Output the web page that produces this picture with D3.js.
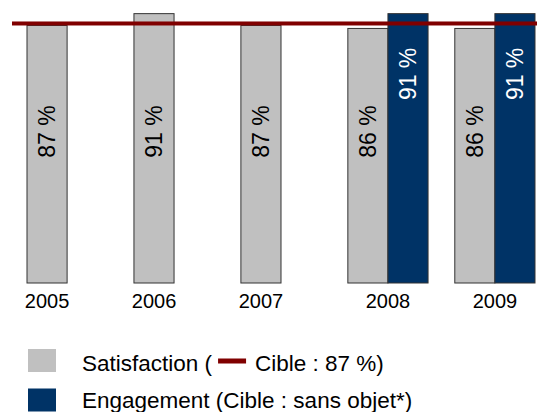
<!DOCTYPE html>
<html>
<head>
<meta charset="utf-8">
<script src="https://cdn.jsdelivr.net/npm/d3@7"></script>
<style>
  body { margin: 0; background: #fff; }
  svg { display: block; font-family: "Liberation Sans", Arial, sans-serif; }
</style>
</head>
<body>
<svg id="chart" width="537" height="412"></svg>
<script>
"use strict";

var years = ["2005", "2006", "2007", "2008", "2009"];
var satisfaction = [87, 91, 87, 86, 86];
var engagement = [null, null, null, 91, 91];
var target = 87;
var seriesNames = ["Satisfaction", "Engagement"];
var legendLabels = ["Satisfaction (", "Engagement (Cible : sans objet*)"];
var targetLabel = "Cible : 87 %";

var colors = { Satisfaction: "#c0c0c0", Engagement: "#003366" };
var labelColors = { Satisfaction: "#000", Engagement: "#fff" };
var targetColor = "#800000";

var svg = d3.select("#chart");

var x = d3.scaleBand()
    .domain(years)
    .range([27, 535])
    .paddingInner(0.25)
    .paddingOuter(0);

var xSub = d3.scaleBand()
    .domain(seriesNames)
    .range([0, x.bandwidth()]);

var y = d3.scaleLinear()
    .domain([0, 100])
    .range([283, -13]);

var rows = years.map(function(year, i) {
    var bars = [{ key: "Satisfaction", value: satisfaction[i] }];
    if (engagement[i] != null) {
        bars.push({ key: "Engagement", value: engagement[i] });
    }
    return { year: year, bars: bars };
});

// where the rotated value labels end (in value units)
var labelTop = { Satisfaction: 60, Engagement: 79.5 };

var groups = svg.selectAll("g.year")
    .data(rows)
    .enter().append("g")
    .attr("class", "year")
    .attr("transform", function(d) {
        return "translate(" + x(d.year) + ",0)";
    });

groups.selectAll("rect")
    .data(function(d) { return d.bars; })
    .enter().append("rect")
    .attr("x", function(d) { return xSub(d.key); })
    .attr("y", function(d) { return y(d.value); })
    .attr("width", xSub.bandwidth())
    .attr("height", function(d) { return y(0) - y(d.value); })
    .attr("fill", function(d) { return colors[d.key]; })
    .attr("stroke", "#333")
    .attr("stroke-width", 1);

groups.selectAll("text.val")
    .data(function(d) { return d.bars; })
    .enter().append("text")
    .attr("class", "val")
    .attr("transform", function(d) {
        var cx = xSub(d.key) + xSub.bandwidth() / 2;
        return "translate(" + cx + "," + y(labelTop[d.key]) + ") rotate(-90)";
    })
    .attr("dy", "0.36em")
    .attr("text-anchor", "end")
    .attr("font-size", 23)
    .attr("fill", function(d) { return labelColors[d.key]; })
    .text(function(d) { return d.value + " %"; });

// year labels centred under the bars that are present
groups.append("text")
    .attr("x", function(d) {
        return d.bars.length * xSub.bandwidth() / 2;
    })
    .attr("y", 308)
    .attr("text-anchor", "middle")
    .attr("font-size", 20)
    .attr("fill", "#000")
    .text(function(d) { return d.year; });

// target line
svg.append("rect")
    .attr("x", 12)
    .attr("y", y(target) - 4)
    .attr("width", 525)
    .attr("height", 4)
    .attr("fill", targetColor);

// legend
var legend = svg.append("g").attr("transform", "translate(28,349)");

legend.selectAll("rect")
    .data(seriesNames)
    .enter().append("rect")
    .attr("x", 0)
    .attr("y", function(d, i) { return i * 39.5; })
    .attr("width", 28)
    .attr("height", 23)
    .attr("fill", function(d) { return colors[d]; });

var legendText = legend.selectAll("text")
    .data(legendLabels)
    .enter().append("text")
    .attr("x", 54)
    .attr("y", function(d, i) { return 22 + i * 37; })
    .attr("font-size", 22.5)
    .attr("fill", "#000")
    .text(function(d) { return d; });

var firstWidth = legendText.node().getComputedTextLength();
legend.append("rect")
    .attr("x", 54 + firstWidth + 6)
    .attr("y", 9.5)
    .attr("width", 28)
    .attr("height", 5)
    .attr("fill", targetColor);

legend.append("text")
    .attr("x", 54 + firstWidth + 43)
    .attr("y", 22)
    .attr("font-size", 22.5)
    .attr("fill", "#000")
    .text(targetLabel + ")");
</script>
</body>
</html>
